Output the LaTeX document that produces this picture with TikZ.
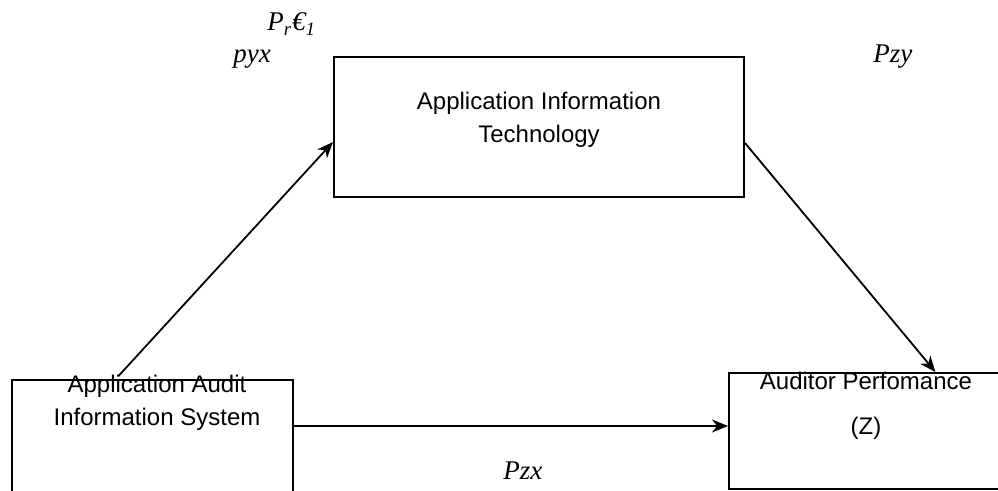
\documentclass[tikz,border=0pt]{standalone}
\usepackage{fontspec}
\setmainfont{Liberation Serif}
\setsansfont{Liberation Sans}
\usetikzlibrary{arrows.meta}

\begin{document}
\begin{tikzpicture}[x=0.5pt,y=-0.5pt,
    path/.style={line width=0.9pt,-{Stealth[length=8pt,width=6.5pt,inset=2.5pt]}}]

      \useasboundingbox (0,0) rectangle (998,491);
      \clip (0,0) rectangle (998,491);

      % the three variables
      \begin{scope}[every node/.style={rectangle,draw,line width=1pt,inner sep=0pt}]
        \node[minimum width=205pt,minimum height=70pt] (ait)  at (539,127)   {};
        \node[minimum width=140.5pt,minimum height=70pt] (aais) at (152.5,450) {};
        \node[minimum width=140.5pt,minimum height=58pt] (ap)   at (869.5,431) {};
      \end{scope}

      \begin{scope}[every node/.style={align=center,inner sep=0pt,
          font=\sffamily\fontsize{12}{16.5}\selectfont}]
        \node (aitname)  at (539,120) {Application Information\\Technology};
        \node (aaisname) at (157,403) {Application Audit\\Information System};
        \node (apname)   at (866,406) {Auditor Perfomance\\[6pt](Z)};
      \end{scope}

      % path coefficients
      \begin{scope}[every node/.style={anchor=base west,inner sep=0pt,
          font=\itshape\fontsize{13.5}{15}\selectfont}]
        \node (eps) at (267,31)  {P\textsubscript{r}€\textsubscript{1}};
        \node (pyx) at (233,63)  {pyx};
        \node (pzy) at (873,63)  {Pzy};
        \node (pzx) at (503,480) {Pzx};
      \end{scope}

      \draw[path] ([xshift=-17pt,yshift=1.5pt]aais.north) -- ([yshift=-7.5pt]ait.west);
      \draw[path] ([yshift=-8pt]ait.east) -- ([xshift=33pt]ap.north);
      \draw[path] ([yshift=12pt]aais.east) -- ([yshift=12pt]aais.east -| ap.west);

    \end{tikzpicture}
\end{document}
